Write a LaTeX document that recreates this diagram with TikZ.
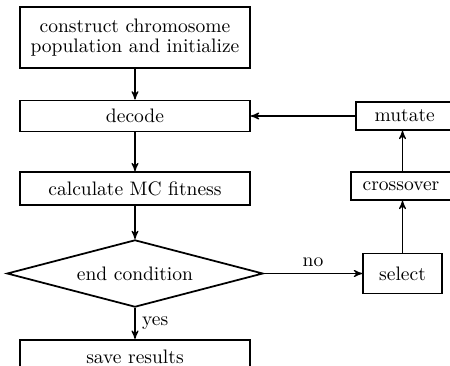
\documentclass[tikz,border=0pt]{standalone}
\usepackage{amsmath}
\usepackage{tikz}
\usetikzlibrary{shapes.geometric}
\usetikzlibrary{arrows,positioning}

\begin{document}
\begin{tikzpicture}[x=.018cm,y=-.018cm,>=stealth']%
\useasboundingbox (0,0) rectangle (450,365);
\clip (0,0) rectangle (450,365);
\begin{scope}[shape=rectangle,inner sep=0pt,line width=.9pt]%
\tikzstyle{every node}=[draw,fill=white] %%
\node[minimum width=4.14cm,minimum height=1.1cm,align=center] (init) at (135,37.5)  {construct chromosome\\[-2pt]population and initialize}; %%
\node[minimum width=4.14cm,minimum height=.56cm] (dec) at (135,116)  {decode}; %%
\node[minimum width=4.14cm,minimum height=.59cm] (calc) at (135,188.5)  {calculate MC fitness}; %%
\node[diamond,aspect=3.8,minimum width=4.61cm,minimum height=1.21cm] (cond) at (135,273.5)  {end condition}; %%
\node[minimum width=4.14cm,minimum height=.62cm] (save) at (135,357)  {save results}; %%
\node[minimum width=1.42cm,minimum height=.72cm] (sel) at (402.5,273.5)  {select}; %%
\node[minimum width=1.98cm,minimum height=.5cm,anchor=west] (cross) at (350,186)  {\hspace*{-5pt}crossover}; %%
\node[minimum width=1.9cm,minimum height=.5cm,anchor=west] (mut) at (355,116)  {\hspace*{-4pt}mutate}; %%
\end{scope}
\begin{scope}[semithick]%
\draw[->] (init)--(dec); %%
\draw[->] (dec)--(calc); %%
\draw[->] (calc)--(cond); %%
\draw[->] (cond)--(save) node[midway,right]{yes}; %%
\draw[->] (cond)--(sel) node[midway,above]{no}; %%
\draw[->] (sel)--(sel |- cross.south); %%
\draw[->] (sel |- cross.north)--(sel |- mut.south); %%
\draw[->] (mut)--(dec); %%
\end{scope}
\end{tikzpicture}
\end{document}
